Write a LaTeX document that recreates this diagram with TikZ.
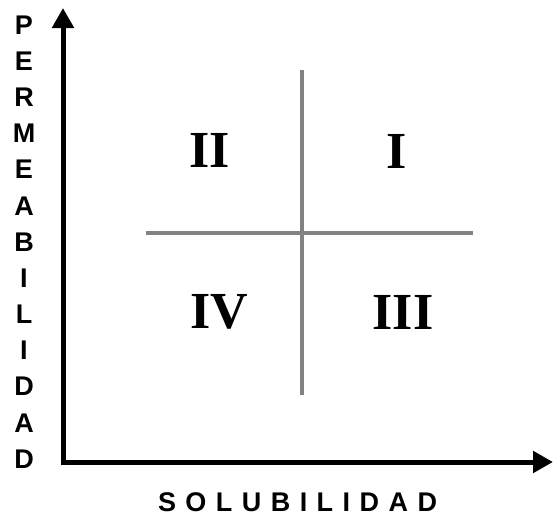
\documentclass[tikz,border=0pt]{standalone}
\usepackage{fontspec}
\setmainfont{Liberation Serif}
\newfontfamily\arialfont{Liberation Sans}
\usetikzlibrary{arrows.meta}
\definecolor{gris}{RGB}{130,130,130}

\begin{document}
\begin{tikzpicture}[
  x=1pt, y=-1pt,
  eje/.style={line width=5pt, {Triangle[length=20pt,width=21pt]}-{Triangle[length=20pt,width=21pt]}},
  cruz/.style={line width=4pt, draw=gris},
  cuadrante/.style={font=\fontsize{52}{52}\selectfont\bfseries, inner sep=0pt},
  letra/.style={font=\arialfont\fontsize{27}{27}\selectfont\bfseries, inner sep=0pt}
]
\useasboundingbox (0,0) rectangle (554,517);
% ejes
\coordinate (origen) at (63,462);
\coordinate (ytip) at (63,8);
\coordinate (xtip) at (553,462);
\draw[eje] (xtip) -- (origen) -- (ytip);
% cruz de cuadrantes
\coordinate (arriba) at (302,70);
\coordinate (abajo) at (302,395);
\coordinate (izq) at (146,233);
\coordinate (der) at (473,233);
\draw[cruz] (arriba) -- (abajo);
\draw[cruz] (izq) -- (der);
% cuadrantes
\node[cuadrante] (c2) at (210,150) {II};
\node[cuadrante] (c1) at (397,151) {I};
\node[cuadrante] (c4) at (219,312) {IV};
\node[cuadrante] (c3) at (403,312) {III};
% etiquetas de los ejes
\foreach \l [count=\i] in {P,E,R,M,E,A,B,I,L,I,D,A,D}
  \node[letra] (perm\i) at (24,{25+36.17*(\i-1)}) {\l};
\node[letra] (solub) at (297.5,502) {\addfontfeature{LetterSpace=35}SOLUBILIDAD};
\end{tikzpicture}
\end{document}
